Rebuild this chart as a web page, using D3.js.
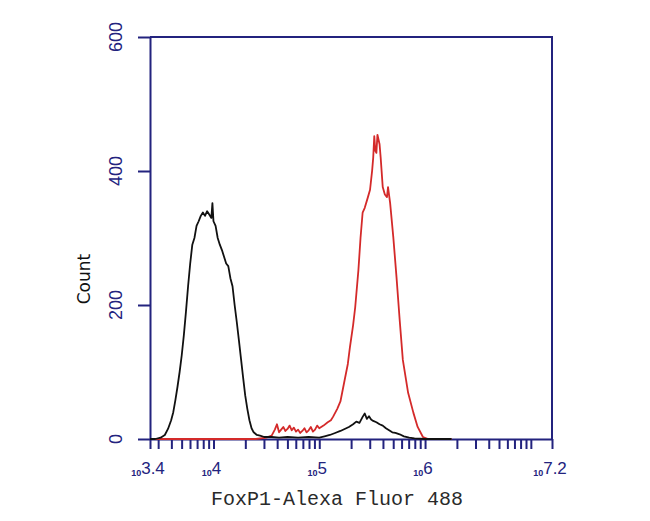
<!DOCTYPE html>
<html>
<head>
<meta charset="utf-8">
<script src="https://cdn.jsdelivr.net/npm/d3@7"></script>
<style>
  body { margin: 0; background: #fff; }
</style>
</head>
<body>
<div id="chart"></div>
<script>
const width = 650;
const height = 521;

// x values are log10 of fluorescence, y values are counts
const blackExp = [3.40, 3.45, 3.50, 3.54, 3.57, 3.60, 3.62, 3.64, 3.66, 3.68, 3.70, 3.72, 3.74, 3.76, 3.78, 3.80, 3.82, 3.84, 3.86, 3.88, 3.90, 3.92, 3.94, 3.96, 3.98, 3.99, 4.00, 4.02, 4.04, 4.06, 4.08, 4.10, 4.12, 4.14, 4.16, 4.18, 4.20, 4.22, 4.24, 4.26, 4.28, 4.30, 4.32, 4.34, 4.36, 4.38, 4.41, 4.44, 4.48, 4.55, 4.62, 4.70, 4.80, 4.90, 5.00, 5.05, 5.10, 5.15, 5.20, 5.24, 5.28, 5.32, 5.35, 5.38, 5.41, 5.43, 5.45, 5.47, 5.49, 5.51, 5.54, 5.57, 5.60, 5.63, 5.66, 5.69, 5.72, 5.76, 5.80, 5.85, 5.90, 6.00, 6.25];
const blackCount = [0, 0, 2, 6, 15, 28, 40, 58, 78, 100, 125, 155, 190, 228, 262, 290, 300, 318, 325, 333, 338, 333, 340, 335, 330, 352, 325, 318, 300, 290, 282, 272, 262, 258, 240, 228, 200, 175, 148, 120, 92, 65, 45, 28, 16, 10, 6, 5, 3, 3, 2, 3, 2, 3, 2, 4, 6, 9, 12, 15, 18, 22, 26, 24, 33, 38, 30, 34, 29, 27, 25, 22, 20, 16, 13, 10, 9, 7, 4, 2, 1, 0, 0];

const redExp = [3.40, 4.40, 4.50, 4.55, 4.58, 4.60, 4.62, 4.64, 4.66, 4.68, 4.70, 4.72, 4.74, 4.76, 4.78, 4.80, 4.82, 4.84, 4.86, 4.88, 4.90, 4.92, 4.94, 4.96, 4.98, 5.00, 5.04, 5.08, 5.11, 5.13, 5.17, 5.20, 5.24, 5.27, 5.29, 5.32, 5.34, 5.37, 5.39, 5.41, 5.43, 5.46, 5.48, 5.50, 5.51, 5.52, 5.53, 5.54, 5.55, 5.57, 5.58, 5.60, 5.62, 5.64, 5.65, 5.67, 5.70, 5.73, 5.76, 5.79, 5.84, 5.89, 5.93, 5.98, 6.03, 6.25];
const redCount = [0, 0, 2, 5, 14, 22, 10, 14, 18, 12, 15, 20, 13, 17, 11, 14, 9, 12, 16, 10, 13, 18, 11, 14, 20, 16, 20, 25, 28, 33, 45, 56, 88, 112, 137, 170, 197, 252, 300, 338, 345, 361, 372, 401, 420, 452, 430, 427, 454, 440, 421, 376, 365, 361, 376, 352, 301, 242, 178, 118, 69, 39, 18, 3, 0, 0];

const yTicks = [0, 200, 400, 600];
const xLabelExps = [3.4, 4, 5, 6, 7.2];
const xTitle = "FoxP1-Alexa Fluor 488";
const yTitle = "Count";

const navy = "#23237e";

const svg = d3.select("#chart").append("svg")
  .attr("width", width).attr("height", height);

const x = d3.scaleLog()
  .domain([Math.pow(10, 3.4), Math.pow(10, 7.2)])
  .range([150, 552]);
const y = d3.scaleLinear()
  .domain([0, 600])
  .range([439, 37]);

// frame (top and right)
svg.append("path")
  .attr("d", `M150,${y(600)}H${x.range()[1]}V${y(0)}`)
  .attr("fill", "none").attr("stroke", navy).attr("stroke-width", 2);

// bottom axis with log minor ticks
const xTickVals = [Math.pow(10, 3.4)].concat(x.ticks(), [Math.pow(10, 7.2)]);
const gx = svg.append("g")
  .attr("transform", `translate(0, ${y(0)})`)
  .call(d3.axisBottom(x).tickValues(xTickVals).tickSize(10).tickSizeOuter(0).tickFormat(""));
gx.select(".domain").attr("stroke", navy).attr("stroke-width", 2);
gx.selectAll(".tick line").attr("stroke", navy).attr("stroke-width", 2);

// left axis
const gy = svg.append("g")
  .attr("transform", "translate(150, 0)")
  .call(d3.axisLeft(y).tickValues(yTicks).tickSize(12).tickSizeOuter(0).tickFormat(""));
gy.select(".domain").attr("stroke", navy).attr("stroke-width", 2);
gy.selectAll(".tick line").attr("stroke", navy).attr("stroke-width", 2);

// y tick labels (rotated)
svg.selectAll(".ylab")
  .data(yTicks)
  .join("text")
  .attr("class", "ylab")
  .attr("transform", d => `translate(122, ${y(d)}) rotate(-90)`)
  .attr("text-anchor", "middle")
  .attr("font-family", "Liberation Sans, Arial, sans-serif")
  .attr("font-size", 18)
  .attr("fill", navy)
  .text(d => d);

// x tick labels: small "10" with raised exponent
const xl = svg.selectAll(".xlab")
  .data(xLabelExps)
  .join("text")
  .attr("class", "xlab")
  .attr("x", d => x(Math.pow(10, d)) - 2)
  .attr("y", 476)
  .attr("text-anchor", "middle")
  .attr("font-family", "Liberation Sans, Arial, sans-serif")
  .attr("fill", navy);
xl.append("tspan").attr("font-size", 9).attr("font-weight", "bold").text("10");
xl.append("tspan").attr("font-size", 17).attr("dy", -2).text(d => d);

// axis titles
svg.append("text")
  .attr("x", 337).attr("y", 505)
  .attr("text-anchor", "middle")
  .attr("font-family", "Liberation Mono, Courier New, monospace")
  .attr("font-size", 20)
  .attr("fill", "#2a2a2a")
  .text(xTitle);

svg.append("text")
  .attr("transform", "translate(90, 279) rotate(-90)")
  .attr("text-anchor", "middle")
  .attr("font-family", "DejaVu Sans, sans-serif")
  .attr("font-size", 17)
  .attr("fill", "#111")
  .text(yTitle);

// histogram lines
const line = d3.line()
  .x(d => x(Math.pow(10, d[0])))
  .y(d => y(d[1]));

const series = [
  { color: "#d42a2a", pts: d3.zip(redExp, redCount) },
  { color: "#111111", pts: d3.zip(blackExp, blackCount) }
];

svg.selectAll(".hist")
  .data(series)
  .join("path")
  .attr("class", "hist")
  .attr("fill", "none")
  .attr("stroke", d => d.color)
  .attr("stroke-width", 1.8)
  .attr("stroke-linejoin", "round")
  .attr("d", d => line(d.pts));
</script>
</body>
</html>
